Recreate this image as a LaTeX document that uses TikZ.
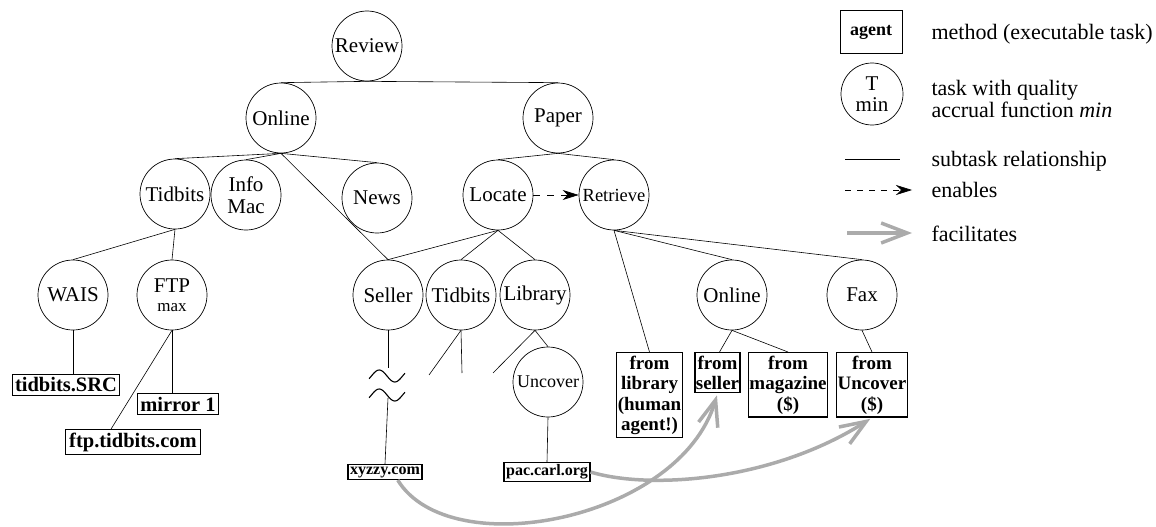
\documentclass[tikz,border=0pt]{standalone}
\usepackage{fontspec}
\setmainfont{Liberation Serif}
\usetikzlibrary{arrows.meta,calc}

\begin{document}
\begin{tikzpicture}[x=1pt,y=-1pt,
  task/.style={circle,draw,line width=0.7pt,minimum size=70pt,inner sep=0pt,
    align=center,font=\fontsize{21}{22}\selectfont},
  method/.style={draw,line width=1.3pt,inner xsep=2.5pt,inner ysep=3pt,
    font=\bfseries\fontsize{20.5}{21}\selectfont},
  smallmethod/.style={method,inner xsep=2pt,inner ysep=2pt,font=\bfseries\fontsize{16}{17}\selectfont},
  multimethod/.style={method,anchor=north,align=center,inner xsep=1pt,
    font=\bfseries\fontsize{19}{20.5}\selectfont},
  sub/.style={line width=0.6pt},
  ena/.style={line width=0.7pt,dash pattern=on 7pt off 7pt,
    -{Stealth[length=16pt,width=10pt,inset=5pt]}},
  fac/.style={draw=black!33,line width=3.5pt,
    -{Straight Barb[length=26pt,width=20pt]}},
  legtext/.style={anchor=west,align=left,font=\fontsize{22}{21.5}\selectfont},
]
\useasboundingbox (0,0) rectangle (1156,527);

% ---- task tree ----
\node[task] (review)   at (367,46)  {Review};
\node[task] (onlineA)  at (281,118) {Online};
\node[task] (paper)    at (558,118) {Paper};
\node[task] (tidbitsA) at (175,194) {Tidbits};
\node[task] (infomac)  at (246,195) {Info\\Mac};
\node[task] (news)     at (377,198) {News};
\node[task] (locate)   at (498,195) {Locate};
\node[task,font=\fontsize{18.5}{20}\selectfont] (retrieve) at (614,195) {Retrieve};
\node[task] (wais)     at (73,295)  {WAIS};
\node[task] (ftp)      at (172,295) {FTP\\[-3pt]\fontsize{17}{17}\selectfont max};
\node[task] (seller)   at (388,295) {Seller};
\node[task] (tidbitsB) at (461,295) {Tidbits};
\node[task] (library)  at (535,295) {Library};
\node[task,font=\fontsize{18}{20}\selectfont] (uncover) at (548,382) {Uncover};
\node[task] (onlineB)  at (732,295) {Online};
\node[task] (fax)      at (862,295) {Fax};

% ---- methods ----
\node[method] (src)    at (66,385)  {tidbits.SRC};
\node[method] (mirror) at (178,404) {mirror 1};
\node[method,inner xsep=4pt] (ftpbox) at (133,442) {ftp.tidbits.com};
\node[smallmethod] (xyzzy) at (385,472) {xyzzy.com};
\node[smallmethod] (pac)   at (547,472) {pac.carl.org};
\node[multimethod] (fromlib)    at (649.5,352) {from\\library\\(human\\agent!)};
\node[multimethod] (fromseller) at (717.5,352) {from\\seller};
\node[multimethod] (frommag)    at (788,352)   {from\\magazine\\(\$)};
\node[multimethod] (fromunc)    at (872,352)   {from\\Uncover\\(\$)};

% ---- subtask relationships ----
\draw[sub] (onlineA.north) -- (review.south) -- (paper.north);
\foreach \c in {tidbitsA,infomac,news,seller}
  \draw[sub] (onlineA.south) -- (\c.north);
\foreach \c in {locate,retrieve}
  \draw[sub] (paper.south) -- (\c.north);
\foreach \c in {seller,tidbitsB,library}
  \draw[sub] (locate.south) -- (\c.north);
\foreach \c in {fromlib,onlineB,fax}
  \draw[sub] (retrieve.south) -- (\c.north);
\foreach \c in {wais,ftp}
  \draw[sub] (tidbitsA.south) -- (\c.north);
\draw[sub] (wais.south) -- (wais.south |- src.north);
\draw[sub] (ftp.south) -- (ftp.south |- mirror.north);
\draw[sub] (ftp.south) -- ($(ftpbox.north west)!0.34!(ftpbox.north east)$);
\draw[sub] (onlineB.south) -- ($(fromseller.north)+(2,0)$);
\draw[sub] (onlineB.south) -- (frommag.north);
\draw[sub] (fax.south) -- (fromunc.north);
\draw[sub] (library.south) -- (uncover.north);
\draw[sub] (uncover.south) -- (pac.north);

% branches that are cut off
\coordinate (cutA) at (429,375);
\coordinate (cutB) at (462,373);
\coordinate (cutC) at (493,373);
\draw[sub] (tidbitsB.south) -- (cutA);
\draw[sub] (tidbitsB.south) -- (cutB);
\draw[sub] (library.south) -- (cutC);

% seller branch with an elided stretch
\coordinate (breakTop) at (388,368);
\coordinate (breakBot) at (388,398);
\draw[sub] (seller.south) -- (breakTop);
\draw[sub] (breakBot) -- (xyzzy.north);
\foreach \yy in {376,395}
  \draw[line width=1.1pt,shift={(387,\yy)}]
    plot[domain=-1.15:1.15,samples=40,smooth] ({\x*15.6},{6*sin(180*\x)});

% ---- enables ----
\draw[ena] (locate.east) -- (retrieve.west);

% ---- facilitates ----
\coordinate (xyzzyOut) at ($(xyzzy.south west)!0.67!(xyzzy.south east)$);
\draw[fac,shorten >=2pt] (xyzzyOut) .. controls (450,565) and (680,520) .. (fromseller.south);
\draw[fac,shorten >=2pt] (pac.east) .. controls (650,490) and (773,481) .. (fromunc.south);

% ---- legend ----
\node[draw,line width=0.8pt,minimum width=62pt,minimum height=43pt,
      font=\bfseries\fontsize{18}{18}\selectfont] (legMethod) at (871,32) {agent};
\node[legtext] (legMethodTxt) at (928,34) {method (executable task)};
\node[circle,draw,line width=0.7pt,minimum size=62pt,inner sep=0pt,align=center,
      font=\fontsize{21}{21}\selectfont] (legTask) at (872,94) {T\\min};
\node[legtext] (legTaskTxt) at (928,99)
  {task with quality\\accrual function \textit{min}};
\coordinate (legSubA) at (845,159);
\coordinate (legSubB) at (900,159);
\draw[sub] (legSubA) -- (legSubB);
\node[legtext] (legSubTxt) at (928,161) {subtask relationship};
\coordinate (legEnaA) at (845,190);
\coordinate (legEnaB) at (912,190);
\draw[ena,dash pattern=on 6pt off 6pt] (legEnaA) -- (legEnaB);
\node[legtext] (legEnaTxt) at (928,190) {enables};
\coordinate (legFacA) at (847,233);
\coordinate (legFacB) at (912,233);
\draw[fac] (legFacA) -- (legFacB);
\node[legtext] (legFacTxt) at (928,234) {facilitates};
\end{tikzpicture}
\end{document}
